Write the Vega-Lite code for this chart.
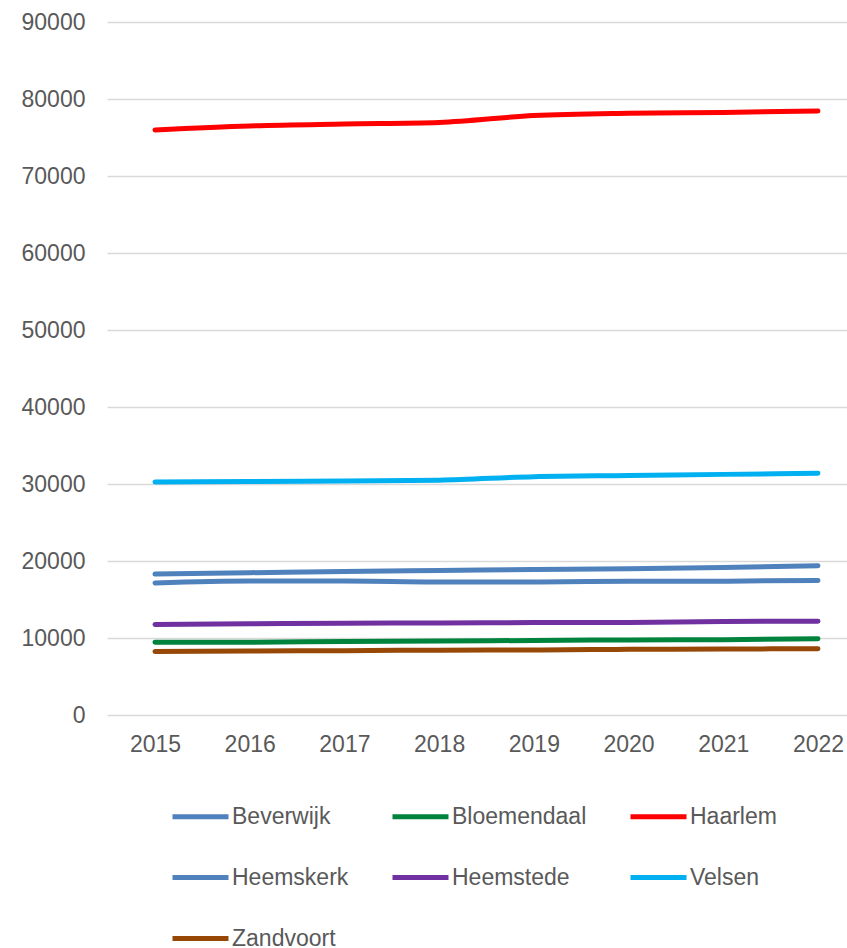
{
  "$schema": "https://vega.github.io/schema/vega-lite/v6.json",
  "autosize": "none",
  "width": 740,
  "height": 693,
  "padding": {"left": 107, "top": 22, "right": 0, "bottom": 233},
  "background": "white",
  "config": {
    "view": {"stroke": null},
    "font": "Liberation Sans"
  },
  "data": {
    "values": [
      {"jaar": "2015", "gemeente": "Beverwijk", "waarde": 18300},
      {"jaar": "2016", "gemeente": "Beverwijk", "waarde": 18480},
      {"jaar": "2017", "gemeente": "Beverwijk", "waarde": 18650},
      {"jaar": "2018", "gemeente": "Beverwijk", "waarde": 18780},
      {"jaar": "2019", "gemeente": "Beverwijk", "waarde": 18880},
      {"jaar": "2020", "gemeente": "Beverwijk", "waarde": 19000},
      {"jaar": "2021", "gemeente": "Beverwijk", "waarde": 19150},
      {"jaar": "2022", "gemeente": "Beverwijk", "waarde": 19390},
      {"jaar": "2015", "gemeente": "Bloemendaal", "waarde": 9440},
      {"jaar": "2016", "gemeente": "Bloemendaal", "waarde": 9450},
      {"jaar": "2017", "gemeente": "Bloemendaal", "waarde": 9550},
      {"jaar": "2018", "gemeente": "Bloemendaal", "waarde": 9600},
      {"jaar": "2019", "gemeente": "Bloemendaal", "waarde": 9680},
      {"jaar": "2020", "gemeente": "Bloemendaal", "waarde": 9750},
      {"jaar": "2021", "gemeente": "Bloemendaal", "waarde": 9780},
      {"jaar": "2022", "gemeente": "Bloemendaal", "waarde": 9900},
      {"jaar": "2015", "gemeente": "Haarlem", "waarde": 75980},
      {"jaar": "2016", "gemeente": "Haarlem", "waarde": 76500},
      {"jaar": "2017", "gemeente": "Haarlem", "waarde": 76750},
      {"jaar": "2018", "gemeente": "Haarlem", "waarde": 76950},
      {"jaar": "2019", "gemeente": "Haarlem", "waarde": 77850},
      {"jaar": "2020", "gemeente": "Haarlem", "waarde": 78150},
      {"jaar": "2021", "gemeente": "Haarlem", "waarde": 78250},
      {"jaar": "2022", "gemeente": "Haarlem", "waarde": 78450},
      {"jaar": "2015", "gemeente": "Heemskerk", "waarde": 17150},
      {"jaar": "2016", "gemeente": "Heemskerk", "waarde": 17400},
      {"jaar": "2017", "gemeente": "Heemskerk", "waarde": 17400},
      {"jaar": "2018", "gemeente": "Heemskerk", "waarde": 17280},
      {"jaar": "2019", "gemeente": "Heemskerk", "waarde": 17280},
      {"jaar": "2020", "gemeente": "Heemskerk", "waarde": 17360},
      {"jaar": "2021", "gemeente": "Heemskerk", "waarde": 17380},
      {"jaar": "2022", "gemeente": "Heemskerk", "waarde": 17480},
      {"jaar": "2015", "gemeente": "Heemstede", "waarde": 11750},
      {"jaar": "2016", "gemeente": "Heemstede", "waarde": 11850},
      {"jaar": "2017", "gemeente": "Heemstede", "waarde": 11920},
      {"jaar": "2018", "gemeente": "Heemstede", "waarde": 11950},
      {"jaar": "2019", "gemeente": "Heemstede", "waarde": 12000},
      {"jaar": "2020", "gemeente": "Heemstede", "waarde": 12020},
      {"jaar": "2021", "gemeente": "Heemstede", "waarde": 12150},
      {"jaar": "2022", "gemeente": "Heemstede", "waarde": 12180},
      {"jaar": "2015", "gemeente": "Velsen", "waarde": 30270},
      {"jaar": "2016", "gemeente": "Velsen", "waarde": 30320},
      {"jaar": "2017", "gemeente": "Velsen", "waarde": 30400},
      {"jaar": "2018", "gemeente": "Velsen", "waarde": 30500},
      {"jaar": "2019", "gemeente": "Velsen", "waarde": 30950},
      {"jaar": "2020", "gemeente": "Velsen", "waarde": 31100},
      {"jaar": "2021", "gemeente": "Velsen", "waarde": 31250},
      {"jaar": "2022", "gemeente": "Velsen", "waarde": 31390},
      {"jaar": "2015", "gemeente": "Zandvoort", "waarde": 8260},
      {"jaar": "2016", "gemeente": "Zandvoort", "waarde": 8300},
      {"jaar": "2017", "gemeente": "Zandvoort", "waarde": 8360},
      {"jaar": "2018", "gemeente": "Zandvoort", "waarde": 8420},
      {"jaar": "2019", "gemeente": "Zandvoort", "waarde": 8450},
      {"jaar": "2020", "gemeente": "Zandvoort", "waarde": 8530},
      {"jaar": "2021", "gemeente": "Zandvoort", "waarde": 8570},
      {"jaar": "2022", "gemeente": "Zandvoort", "waarde": 8610}
    ]
  },
  "mark": {"type": "line", "strokeWidth": 5, "strokeCap": "round", "strokeJoin": "round", "interpolate": "monotone"},
  "encoding": {
    "x": {
      "field": "jaar",
      "type": "ordinal",
      "scale": {"type": "point", "padding": 0.4066, "align": 0.623},
      "axis": {
        "title": null,
        "domain": false,
        "ticks": false,
        "labelAngle": 0,
        "labelFontSize": 23,
        "labelColor": "#595959",
        "labelPadding": 18,
        "grid": false
      }
    },
    "y": {
      "field": "waarde",
      "type": "quantitative",
      "scale": {"domain": [0, 90000], "nice": false},
      "axis": {
        "title": null,
        "domain": false,
        "ticks": false,
        "values": [0, 10000, 20000, 30000, 40000, 50000, 60000, 70000, 80000, 90000],
        "format": "d",
        "labelFontSize": 23,
        "labelColor": "#595959",
        "labelPadding": 22,
        "grid": true,
        "gridColor": "#D9D9D9",
        "gridWidth": 1.3
      }
    },
    "color": {
      "field": "gemeente",
      "type": "nominal",
      "scale": {
        "domain": ["Beverwijk", "Bloemendaal", "Haarlem", "Heemskerk", "Heemstede", "Velsen", "Zandvoort"],
        "range": ["#4F81BD", "#00843D", "#FF0000", "#4F81BD", "#7030A0", "#00B0F0", "#974706"]
      },
      "legend": {
        "title": null,
        "orient": "none",
        "legendX": 63,
        "legendY": 764,
        "direction": "horizontal",
        "columns": 3,
        "symbolType": "stroke",
        "symbolSize": 3136,
        "symbolStrokeWidth": 5,
        "labelFontSize": 23,
        "labelColor": "#595959",
        "labelOffset": 1,
        "columnPadding": 33,
        "rowPadding": 18,
        "padding": 0
      }
    }
  }
}
